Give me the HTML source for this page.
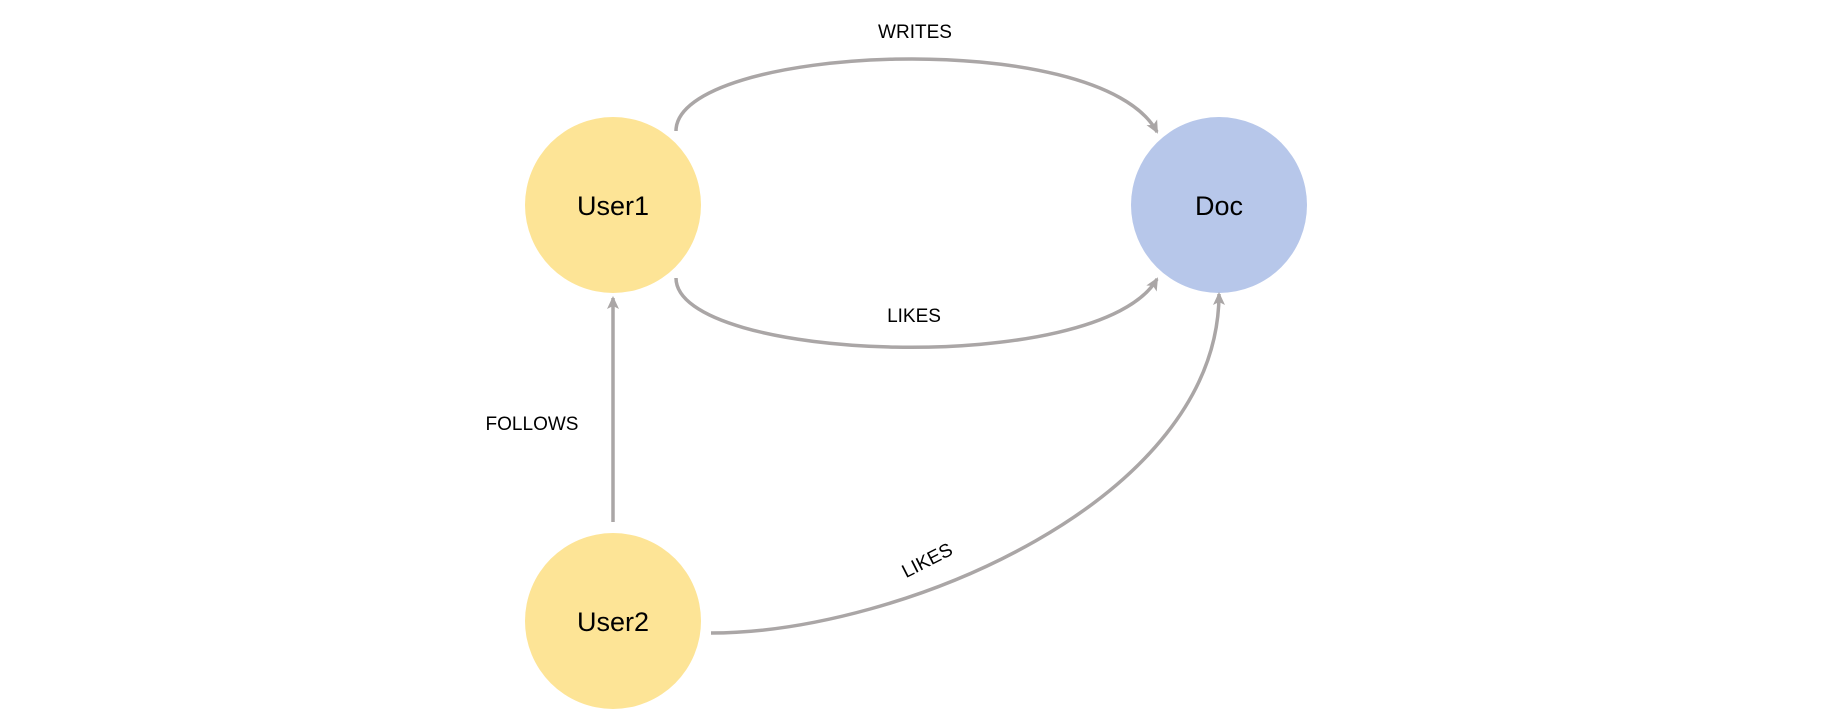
<!DOCTYPE html>
<html><head><style>
html,body{margin:0;padding:0;background:#fff;}
svg{display:block;}
text{font-family:"Liberation Sans",sans-serif;fill:#000;}
</style></head><body>
<svg width="1831" height="723" viewBox="0 0 1831 723" xmlns="http://www.w3.org/2000/svg">
<defs>
<marker id="a" markerWidth="14" markerHeight="12" refX="11" refY="6" orient="auto" markerUnits="userSpaceOnUse">
<path d="M0,0 L13,6 L0,12 L3,6 Z" fill="#aaa6a6"/>
</marker>
</defs>
<circle cx="613" cy="205" r="88" fill="#fde496"/>
<circle cx="1219" cy="205" r="88" fill="#b7c7ea"/>
<circle cx="613" cy="621" r="88" fill="#fde496"/>
<g fill="none" stroke="#aaa6a6" stroke-width="3.5">
<path d="M676,131 C676,45 1100,25 1157,132" marker-end="url(#a)"/>
<path d="M676,278 C676,362 1100,378 1157,279" marker-end="url(#a)"/>
<path d="M613,522 L613,298" marker-end="url(#a)"/>
<path d="M711,633 C900,633 1219,500 1219,294" marker-end="url(#a)"/>
</g>
<text x="613" y="215" font-size="27" text-anchor="middle">User1</text>
<text x="1219" y="215" font-size="27" text-anchor="middle">Doc</text>
<text x="613" y="631" font-size="27" text-anchor="middle">User2</text>
<text x="915" y="38" font-size="19" text-anchor="middle">WRITES</text>
<text x="914" y="322" font-size="19" text-anchor="middle">LIKES</text>
<text x="532" y="430" font-size="19" text-anchor="middle">FOLLOWS</text>
<text x="0" y="0" font-size="19" text-anchor="middle" transform="translate(930,566) rotate(-27)">LIKES</text>
</svg>
</body></html>
